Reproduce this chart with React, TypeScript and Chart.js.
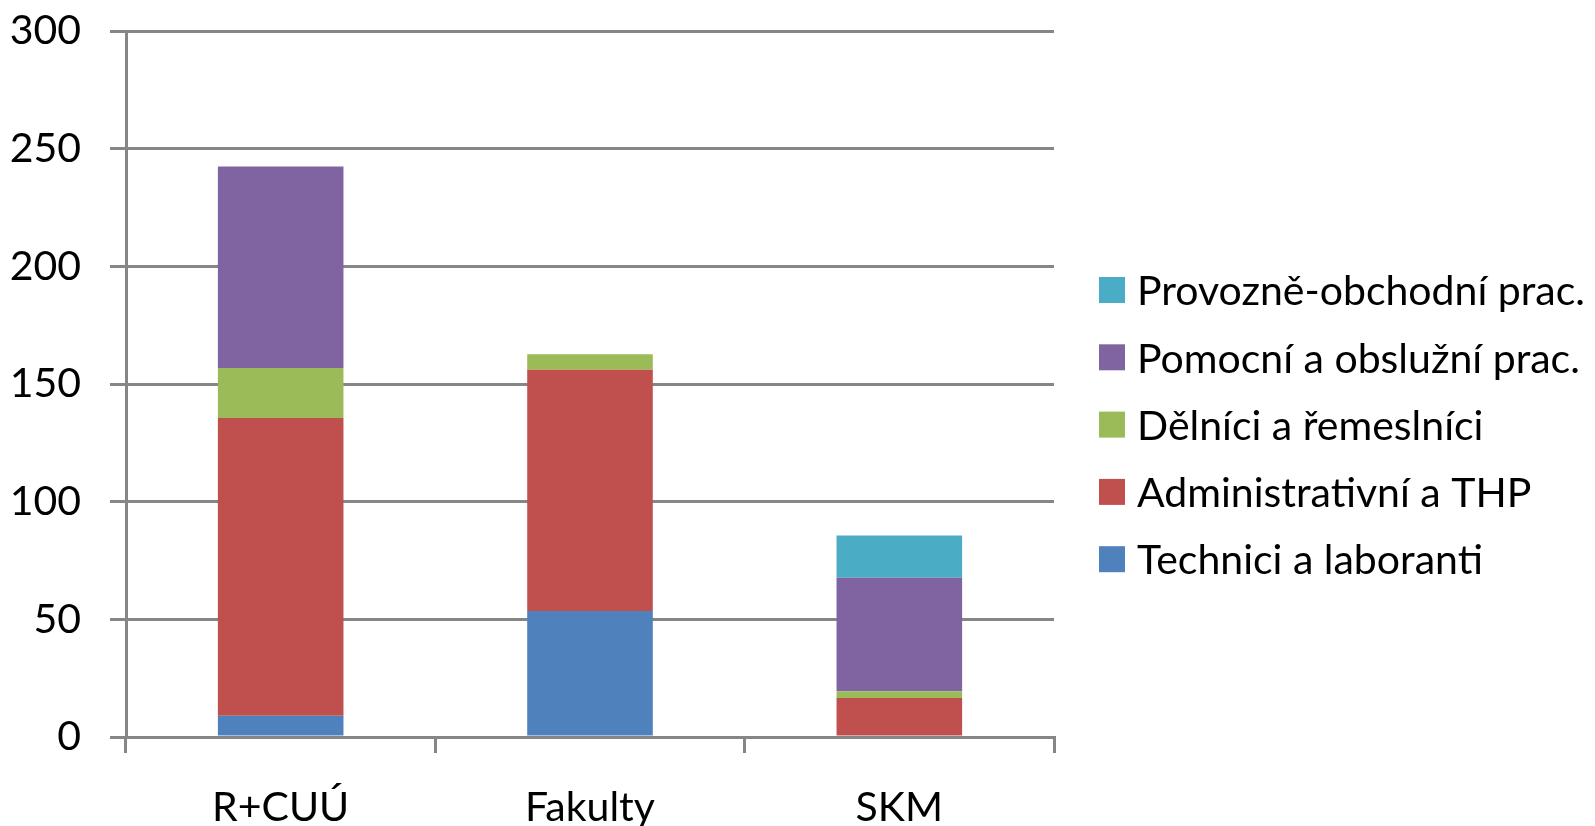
import React, { useEffect, useRef } from "react";
import { Chart, registerables } from "chart.js";

Chart.register(...registerables);

const categories = ["R+CUÚ", "Fakulty", "SKM"];
const seriesNames = [
  "Technici a laboranti",
  "Administrativní a THP",
  "Dělníci a řemeslníci",
  "Pomocní a obslužní prac.",
  "Provozně-obchodní prac.",
];
const technici = [9, 53.5, 0];
const administrativni = [126.6, 102.6, 16.6];
const delnici = [21.2, 6.5, 2.8];
const pomocni = [85.6, 0, 48.3];
const provozne = [0, 0, 17.9];
const seriesColors = ["#4F81BD", "#C0504D", "#9BBB59", "#8064A2", "#4BACC6"];
const yMin = 0;
const yMax = 300;
const yStep = 50;

const FONT = "Lato";
const FONT_SIZE = 41;
const GRID = "#868686";

const legendPlugin = {
  id: "customLegend",
  afterDraw(chart: any) {
    const ctx = chart.ctx;
    const right = chart.chartArea.right;
    const ds = chart.data.datasets;
    const n = ds.length;
    ctx.save();
    ctx.font = `${FONT_SIZE}px ${FONT}`;
    ctx.textBaseline = "middle";
    ctx.textAlign = "left";
    for (let i = 0; i < n; i++) {
      const d = ds[n - 1 - i];
      const y = 290 + i * 67.3;
      ctx.fillStyle = d.backgroundColor;
      ctx.fillRect(right + 45, y - 13, 26, 26);
      ctx.fillStyle = "#000";
      ctx.fillText(d.label, right + 83, y + 2);
    }
    ctx.restore();
  },
};

export default function App() {
  const ref = useRef<HTMLCanvasElement | null>(null);
  useEffect(() => {
    document.body.style.margin = "0";
    const canvas = ref.current;
    if (!canvas) return;
    const values = [technici, administrativni, delnici, pomocni, provozne];
    const chart = new Chart(canvas, {
      type: "bar",
      data: {
        labels: categories,
        datasets: values.map((v, i) => ({
          label: seriesNames[i],
          data: v,
          backgroundColor: seriesColors[i],
          borderWidth: 0,
          categoryPercentage: 1,
          barPercentage: 0.406,
        })),
      },
      options: {
        animation: false,
        responsive: false,
        maintainAspectRatio: false,
        layout: { padding: { top: 31, left: 0, right: 541, bottom: 0 } },
        plugins: {
          legend: { display: false },
          tooltip: { enabled: false },
        },
        scales: {
          x: {
            stacked: true,
            afterFit: (s: any) => {
              s.height = 89;
              s.paddingLeft = 0;
              s.paddingRight = 0;
            },
            grid: {
              offset: true,
              drawOnChartArea: false,
              drawTicks: true,
              tickLength: 16,
              color: GRID,
              lineWidth: 3,
            },
            border: { display: true, color: GRID, width: 3 },
            ticks: {
              color: "#000",
              padding: 30,
              font: { family: FONT, size: FONT_SIZE },
              maxRotation: 0,
            },
          },
          y: {
            stacked: true,
            min: yMin,
            max: yMax,
            afterFit: (s: any) => {
              s.width = 126;
              s.paddingTop = 0;
              s.paddingBottom = 0;
            },
            grid: {
              drawTicks: true,
              tickLength: 16,
              color: GRID,
              lineWidth: 3,
            },
            border: { display: true, color: GRID, width: 3 },
            ticks: {
              stepSize: yStep,
              color: "#000",
              padding: 29,
              font: { family: FONT, size: FONT_SIZE },
            },
          },
        },
      },
      plugins: [legendPlugin],
    });
    return () => chart.destroy();
  }, []);
  return (
    <div style={{ width: 1595, height: 826 }}>
      <canvas ref={ref} width={1595} height={826} style={{ display: "block" }} />
    </div>
  );
}
